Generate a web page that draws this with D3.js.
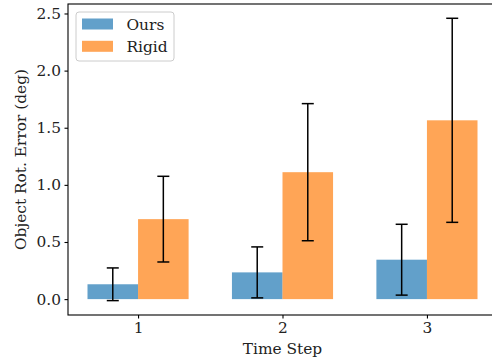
<!DOCTYPE html>
<html>
<head>
<meta charset="utf-8">
<script src="https://cdn.jsdelivr.net/npm/d3@7"></script>
<style>
  body { margin: 0; background: #fff; }
  svg { display: block; overflow: hidden; }
</style>
</head>
<body>
<svg id="chart"></svg>
<script>
(function () {
  const steps = [1, 2, 3];
  const oursMean = [0.13, 0.234, 0.345];
  const oursErr = [0.143, 0.223, 0.31];
  const rigidMean = [0.70, 1.111, 1.565];
  const rigidErr = [0.375, 0.60, 0.893];
  const yTicks = [0.0, 0.5, 1.0, 1.5, 2.0, 2.5];
  const seriesNames = ["Ours", "Rigid"];

  const W = 492, H = 362;
  const margin = { top: 4, right: -5, bottom: 47, left: 68 };
  const width = W - margin.left - margin.right;
  const height = H - margin.top - margin.bottom;
  const font = "'DejaVu Serif', serif";
  const fs = "15.4px";
  const barW = 0.35;

  const svg = d3.select("#chart").attr("width", W).attr("height", H);
  const g = svg.append("g").attr("transform", `translate(${margin.left}, ${margin.top})`);

  const x = d3.scaleLinear().domain([0.515, 3.485]).range([0, width]);
  const y = d3.scaleLinear().domain([-0.139, 2.583]).range([height, 0]);

  const series = [
    { name: seriesNames[0], mean: oursMean, err: oursErr, off: -barW / 2, color: "#1f77b4" },
    { name: seriesNames[1], mean: rigidMean, err: rigidErr, off: barW / 2, color: "#ff7f0e" },
  ];

  series.forEach((s) => {
    const data = steps.map((t, i) => ({ t, v: s.mean[i], e: s.err[i] }));
    g.selectAll(null)
      .data(data)
      .enter()
      .append("rect")
      .attr("x", (d) => x(d.t + s.off - barW / 2))
      .attr("width", (d) => x(d.t + s.off + barW / 2) - x(d.t + s.off - barW / 2))
      .attr("y", (d) => y(d.v))
      .attr("height", (d) => y(0) - y(d.v))
      .attr("fill", s.color)
      .attr("fill-opacity", 0.7);
  });

  series.forEach((s) => {
    const data = steps.map((t, i) => ({ t, v: s.mean[i], e: s.err[i] }));
    const eg = g.selectAll(null).data(data).enter().append("g")
      .attr("stroke", "#000").attr("stroke-width", 1.5);
    eg.append("line")
      .attr("x1", (d) => x(d.t + s.off)).attr("x2", (d) => x(d.t + s.off))
      .attr("y1", (d) => y(d.v - d.e)).attr("y2", (d) => y(d.v + d.e));
    [-1, 1].forEach((k) => {
      eg.append("line")
        .attr("x1", (d) => x(d.t + s.off) - 6).attr("x2", (d) => x(d.t + s.off) + 6)
        .attr("y1", (d) => y(d.v + k * d.e)).attr("y2", (d) => y(d.v + k * d.e));
    });
  });

  // axes
  const yAxis = g.append("g").call(
    d3.axisLeft(y).tickValues(yTicks).tickFormat(d3.format(".1f")).tickSizeOuter(0).tickSize(3.5).tickPadding(3.5)
  );
  const xAxis = g.append("g").attr("transform", `translate(0, ${height})`).call(
    d3.axisBottom(x).tickValues(steps).tickFormat(d3.format("d")).tickSizeOuter(0).tickSize(3.5).tickPadding(3.5)
  );
  [yAxis, xAxis].forEach((a) => {
    a.select(".domain").remove();
    a.selectAll("line").attr("stroke", "#000").attr("stroke-width", 1.1);
    a.selectAll("text").attr("font-family", font).attr("font-size", fs).attr("fill", "#222");
  });

  // spines
  g.append("rect")
    .attr("x", 0).attr("y", 0).attr("width", width).attr("height", height)
    .attr("fill", "none").attr("stroke", "#000").attr("stroke-width", 1.1);

  svg.append("text")
    .attr("x", margin.left + x(2))
    .attr("y", H - 8)
    .attr("text-anchor", "middle")
    .attr("font-family", font).attr("font-size", fs).attr("fill", "#222")
    .text("Time Step");

  svg.append("text")
    .attr("transform", `translate(26, ${margin.top + height / 2}) rotate(-90)`)
    .attr("text-anchor", "middle")
    .attr("font-family", font).attr("font-size", fs).attr("fill", "#222")
    .text("Object Rot. Error (deg)");

  // legend
  const lg = g.append("g").attr("transform", "translate(8, 8)");
  lg.append("rect")
    .attr("width", 98).attr("height", 49).attr("rx", 3)
    .attr("fill", "#fff").attr("fill-opacity", 0.8)
    .attr("stroke", "#ccc").attr("stroke-width", 1);
  series.forEach((s, i) => {
    lg.append("rect")
      .attr("x", 6).attr("y", 6.5 + i * 22.3).attr("width", 31).attr("height", 11)
      .attr("fill", s.color).attr("fill-opacity", 0.7);
    lg.append("text")
      .attr("x", 50.5).attr("y", 17.5 + i * 22.3)
      .attr("font-family", font).attr("font-size", fs).attr("fill", "#222")
      .text(s.name);
  });
})();
</script>
</body>
</html>
